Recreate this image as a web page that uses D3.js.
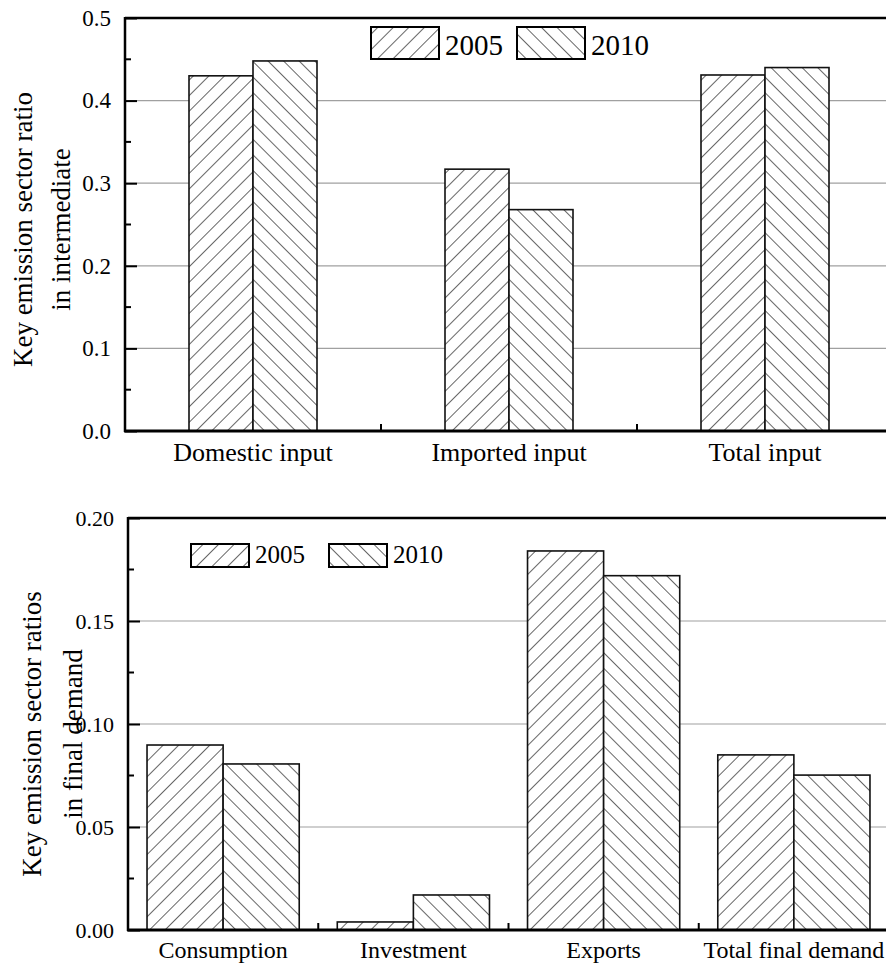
<!DOCTYPE html>
<html lang="en">
<head>
    <meta charset="UTF-8">
    <title>Key emission sector ratios</title>
    <script src="https://cdn.jsdelivr.net/npm/d3@7"></script>
    <style>
        body { margin: 0; background: #fff; }
    </style>
</head>
<body>
<script>
    // data
    const years = ['2005', '2010']
    const inputCats = ['Domestic input', 'Imported input', 'Total input']
    const input2005 = [0.430, 0.317, 0.431]
    const input2010 = [0.448, 0.268, 0.440]
    const inputTicks = [0, 0.1, 0.2, 0.3, 0.4, 0.5]
    const demandCats = ['Consumption', 'Investment', 'Exports', 'Total final demand']
    const demand2005 = [0.0898, 0.0039, 0.184, 0.085]
    const demand2010 = [0.0806, 0.017, 0.172, 0.0752]
    const demandTicks = [0, 0.05, 0.10, 0.15, 0.20]

    const font = 'Liberation Serif'
    const [width, height] = [886, 971]
    const svg = d3.select('body').append('svg').attr('width', width).attr('height', height)
        .attr('font-family', font)

    // hatch patterns: "/" for 2005, "\" for 2010
    const defs = svg.append('defs')
    const hatch = (id, angle) => {
        const p = defs.append('pattern').attr('id', id)
            .attr('patternUnits', 'userSpaceOnUse')
            .attr('width', 11).attr('height', 11)
            .attr('patternTransform', `rotate(${angle})`)
        p.append('rect').attr('width', 11).attr('height', 11).attr('fill', '#fff')
        p.append('line').attr('x1', 0).attr('y1', 0).attr('x2', 0).attr('y2', 11)
            .attr('stroke', '#000').attr('stroke-width', 1.2)
    }
    hatch('h2005', 45)
    hatch('h2010', -45)
    const fills = {'2005': 'url(#h2005)', '2010': 'url(#h2010)'}

    const drawPanel = (o) => {
        const g = svg.append('g')
        const y = d3.scaleLinear().domain(o.yDomain).range(o.yRange)
        const x0 = d3.scaleBand().domain(o.cats).range(o.xRange)
        const step = x0.step()
        const x1 = d3.scaleBand().domain(years).range([-step * o.pairFrac / 2, step * o.pairFrac / 2])
        const left = o.xRange[0]
        const [y0, yTop] = o.yRange

        // gridlines
        g.append('g').selectAll('line').data(o.ticks.filter(t => t > 0 && t < o.yDomain[1]))
            .join('line')
            .attr('x1', left).attr('x2', width)
            .attr('y1', d => y(d)).attr('y2', d => y(d))
            .attr('stroke', '#a0a0a0').attr('stroke-width', 1.2)

        // bars
        const rows = o.cats.map((c, i) => ({cat: c, vals: [o.s2005[i], o.s2010[i]]}))
        g.append('g').selectAll('g').data(rows).join('g')
            .attr('transform', d => `translate(${x0(d.cat) + step / 2},0)`)
            .selectAll('rect').data(d => years.map((yr, j) => ({yr, v: d.vals[j]})))
            .join('rect')
            .attr('x', d => x1(d.yr))
            .attr('width', x1.bandwidth())
            .attr('y', d => y(d.v))
            .attr('height', d => y0 - y(d.v))
            .attr('fill', d => fills[d.yr])
            .attr('stroke', '#111').attr('stroke-width', 1.6)

        // left axis, ticks pointing inward
        const yAxis = d3.axisLeft(y).tickValues(o.ticks).tickFormat(d3.format(o.fmt))
            .tickSize(-12).tickPadding(14)
        const ya = g.append('g').attr('transform', `translate(${left},0)`).call(yAxis)
            .attr('font-family', font).attr('font-size', o.tickFont)
        ya.select('.domain').remove()
        ya.selectAll('line').attr('stroke-width', 2)
        const minor = o.ticks.slice(1).map((t, i) => (t + o.ticks[i]) / 2)
        g.append('g').selectAll('line').data(minor).join('line')
            .attr('x1', left).attr('x2', left + 6)
            .attr('y1', d => y(d)).attr('y2', d => y(d))
            .attr('stroke', '#000').attr('stroke-width', 2)
        g.append('line').attr('x1', left).attr('x2', left).attr('y1', yTop - 1).attr('y2', y0 + 1)
            .attr('stroke', '#000').attr('stroke-width', 2.5)
        g.append('line').attr('x1', left).attr('x2', width).attr('y1', yTop).attr('y2', yTop)
            .attr('stroke', '#000').attr('stroke-width', 2.5)

        // bottom axis with category labels, boundary ticks pointing up
        const xAxis = d3.axisBottom(x0).tickSize(0).tickPadding(o.labelPad)
        const xa = g.append('g').attr('transform', `translate(0,${y0})`).call(xAxis)
            .attr('font-family', font).attr('font-size', o.labelFont)
        xa.select('.domain').remove()
        g.append('g').selectAll('line').data(o.cats.slice(1)).join('line')
            .attr('x1', d => x0(d)).attr('x2', d => x0(d))
            .attr('y1', y0).attr('y2', y0 - 7)
            .attr('stroke', '#000').attr('stroke-width', 2)
        g.append('line').attr('x1', left - 1).attr('x2', width).attr('y1', y0).attr('y2', y0)
            .attr('stroke', '#000').attr('stroke-width', 3)

        // y title
        const cy = (y0 + yTop) / 2 + o.titleShift
        o.title.forEach((t, i) => {
            g.append('text').attr('transform', `translate(${o.titleX[i]},${cy}) rotate(-90)`)
                .attr('text-anchor', 'middle').attr('font-size', o.titleFont).text(t)
        })

        // legend
        const lg = g.append('g')
        years.forEach((yr, i) => {
            const lx = o.legend.x[i]
            lg.append('rect').attr('x', lx).attr('y', o.legend.y)
                .attr('width', o.legend.w).attr('height', o.legend.h)
                .attr('fill', fills[yr]).attr('stroke', '#000').attr('stroke-width', 2)
            lg.append('text').attr('x', lx + o.legend.w + 6).attr('y', o.legend.y + o.legend.h - 4)
                .attr('font-size', o.legend.font).text(yr)
        })
    }

    drawPanel({
        cats: inputCats, s2005: input2005, s2010: input2010,
        yDomain: [0, 0.5], yRange: [431, 18], xRange: [125, 893], pairFrac: 0.5,
        ticks: inputTicks, fmt: '.1f', tickFont: 23, labelFont: 26, labelPad: 12,
        title: ['Key emission sector ratio', 'in intermediate'], titleX: [32, 70], titleFont: 27,
        titleShift: 5,
        legend: {x: [371, 517], y: 27, w: 68, h: 32, font: 29}
    })

    drawPanel({
        cats: demandCats, s2005: demand2005, s2010: demand2010,
        yDomain: [0, 0.2], yRange: [930, 518], xRange: [128, 889], pairFrac: 0.8,
        ticks: demandTicks, fmt: '.2f', tickFont: 22, labelFont: 24, labelPad: 11,
        title: ['Key emission sector ratios', 'in final demand'], titleX: [41, 82], titleFont: 27,
        titleShift: 10,
        legend: {x: [191, 329], y: 544, w: 58, h: 23, font: 25}
    })
</script>
</body>
</html>
